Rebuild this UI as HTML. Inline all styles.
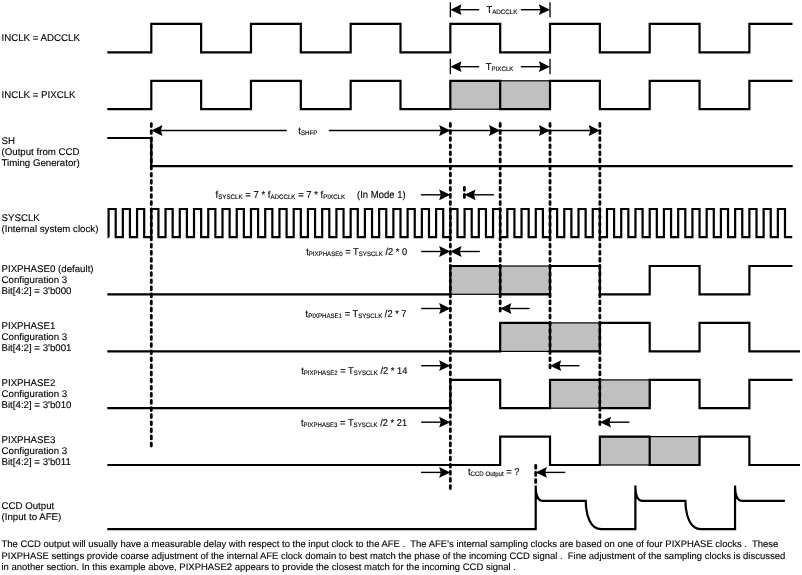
<!DOCTYPE html>
<html><head><meta charset="utf-8"><style>
html,body{margin:0;padding:0;background:#fff;overflow:hidden;width:802px;height:575px;}
svg{display:block;will-change:transform;}
text{font-family:"Liberation Sans", sans-serif;fill:#000;stroke:#000;stroke-width:0.12;white-space:pre;text-rendering:geometricPrecision;}
</style></head><body>
<svg width="802" height="575" viewBox="0 0 802 575">
<path d="M107.3 52.3 H151.3 V23.9 H201.14 V52.3 H250.98 V23.9 H300.82 V52.3 H350.66 V23.9 H400.5 V52.3 H450.34 V23.9 H500.18 V52.3 H550.02 V23.9 H599.86 V52.3 H649.7 V23.9 H699.54 V52.3 H749.38 V23.9 H792.5" fill="none" stroke="#000" stroke-width="2.2" stroke-linejoin="miter" stroke-linecap="butt" />
<rect x="450.34" y="80.8" width="99.68" height="28.4" fill="#c0c0c0" stroke="#000" stroke-width="1.2"/>
<path d="M107.3 109.2 H151.3 V80.8 H201.14 V109.2 H250.98 V80.8 H300.82 V109.2 H350.66 V80.8 H400.5 V109.2 H450.34 V80.8 H500.18 V109.2 H550.02 V80.8 H599.86 V109.2 H649.7 V80.8 H699.54 V109.2 H749.38 V80.8 H792.5" fill="none" stroke="#000" stroke-width="2.2" stroke-linejoin="miter" stroke-linecap="butt" />
<path d="M107.3 138 H151.3 V166.2 H792.7" fill="none" stroke="#000" stroke-width="2.2" stroke-linejoin="miter" stroke-linecap="butt" />
<path d="M108.6 237.2 H108.58 V209 H115.7 V237.2 H122.82 V209 H129.94 V237.2 H137.06 V209 H144.18 V237.2 H151.3 V209 H158.42 V237.2 H165.54 V209 H172.66 V237.2 H179.78 V209 H186.9 V237.2 H194.02 V209 H201.14 V237.2 H208.26 V209 H215.38 V237.2 H222.5 V209 H229.62 V237.2 H236.74 V209 H243.86 V237.2 H250.98 V209 H258.1 V237.2 H265.22 V209 H272.34 V237.2 H279.46 V209 H286.58 V237.2 H293.7 V209 H300.82 V237.2 H307.94 V209 H315.06 V237.2 H322.18 V209 H329.3 V237.2 H336.42 V209 H343.54 V237.2 H350.66 V209 H357.78 V237.2 H364.9 V209 H372.02 V237.2 H379.14 V209 H386.26 V237.2 H393.38 V209 H400.5 V237.2 H407.62 V209 H414.74 V237.2 H421.86 V209 H428.98 V237.2 H436.1 V209 H443.22 V237.2 H450.34 V209 H457.46 V237.2 H464.58 V209 H471.7 V237.2 H478.82 V209 H485.94 V237.2 H493.06 V209 H500.18 V237.2 H507.3 V209 H514.42 V237.2 H521.54 V209 H528.66 V237.2 H535.78 V209 H542.9 V237.2 H550.02 V209 H557.14 V237.2 H564.26 V209 H571.38 V237.2 H578.5 V209 H585.62 V237.2 H592.74 V209 H599.86 V237.2 H606.98 V209 H614.1 V237.2 H621.22 V209 H628.34 V237.2 H635.46 V209 H642.58 V237.2 H649.7 V209 H656.82 V237.2 H663.94 V209 H671.06 V237.2 H678.18 V209 H685.3 V237.2 H692.42 V209 H699.54 V237.2 H706.66 V209 H713.78 V237.2 H720.9 V209 H728.02 V237.2 H735.14 V209 H742.26 V237.2 H749.38 V209 H756.5 V237.2 H763.62 V209 H770.74 V237.2 H777.86 V209 H784.98 V237.2 H792.2" fill="none" stroke="#000" stroke-width="2.2" stroke-linejoin="miter" stroke-linecap="butt" />
<rect x="450.34" y="266" width="99.68" height="28.3" fill="#c0c0c0" stroke="#000" stroke-width="1.2"/>
<path d="M107.3 294.3 H450.34 V266 H500.18 V294.3 H550.02 V266 H599.86 V294.3 H649.7 V266 H699.54 V294.3 H749.38 V266 H792.5" fill="none" stroke="#000" stroke-width="2.2" stroke-linejoin="miter" stroke-linecap="butt" />
<rect x="500.18" y="322.9" width="99.68" height="28.5" fill="#c0c0c0" stroke="#000" stroke-width="1.2"/>
<path d="M107.3 351.4 H500.18 V322.9 H550.02 V351.4 H599.86 V322.9 H649.7 V351.4 H699.54 V322.9 H749.38 V351.4 H800" fill="none" stroke="#000" stroke-width="2.2" stroke-linejoin="miter" stroke-linecap="butt" />
<rect x="550.02" y="379.9" width="99.68" height="28.3" fill="#c0c0c0" stroke="#000" stroke-width="1.2"/>
<path d="M107.3 408.2 H450.34 V379.9 H500.18 V408.2 H550.02 V379.9 H599.86 V408.2 H649.7 V379.9 H699.54 V408.2 H749.38 V379.9 H792.5" fill="none" stroke="#000" stroke-width="2.2" stroke-linejoin="miter" stroke-linecap="butt" />
<rect x="599.86" y="436.6" width="99.68" height="28.4" fill="#c0c0c0" stroke="#000" stroke-width="1.2"/>
<path d="M107.3 465 H500.18 V436.6 H550.02 V465 H599.86 V436.6 H649.7 V465 H699.54 V436.6 H749.38 V465 H800" fill="none" stroke="#000" stroke-width="2.2" stroke-linejoin="miter" stroke-linecap="butt" />
<path d="M107.3 529.1 H535.7 V485.4 C535.7 496 538.3 500.8 542.9 500.8 H585.8 C585.8 516 590.7 529.1 601.2 529.1 H635.38 V485.4 C635.38 496 637.98 500.8 642.58 500.8 H685.48 C685.48 516 690.38 529.1 700.88 529.1 H735.06 V485.4 C735.06 496 737.66 500.8 742.26 500.8 H784.9" fill="none" stroke="#000" stroke-width="2.2" stroke-linejoin="miter" stroke-linecap="butt" />
<line x1="151.3" y1="122.2" x2="151.3" y2="447.3" stroke="#000" stroke-width="2.8" stroke-dasharray="2.9 4.2" stroke-dashoffset="5.7" stroke-linecap="round"/>
<line x1="450.34" y1="122.1" x2="450.34" y2="489" stroke="#000" stroke-width="2.8" stroke-dasharray="2.9 4.2" stroke-dashoffset="5.7" stroke-linecap="round"/>
<line x1="500.18" y1="122.1" x2="500.18" y2="312" stroke="#000" stroke-width="2.8" stroke-dasharray="2.9 4.2" stroke-dashoffset="5.7" stroke-linecap="round"/>
<line x1="550.02" y1="122.1" x2="550.02" y2="368.6" stroke="#000" stroke-width="2.8" stroke-dasharray="2.9 4.2" stroke-dashoffset="5.7" stroke-linecap="round"/>
<line x1="599.86" y1="122.1" x2="599.86" y2="425.2" stroke="#000" stroke-width="2.8" stroke-dasharray="2.9 4.2" stroke-dashoffset="5.7" stroke-linecap="round"/>
<line x1="464.4" y1="186" x2="464.4" y2="198.5" stroke="#000" stroke-width="2.8" stroke-dasharray="2.9 4.2" stroke-dashoffset="5.7" stroke-linecap="round"/>
<line x1="535.7" y1="464" x2="535.7" y2="486" stroke="#000" stroke-width="2.8" stroke-dasharray="2.9 4.2" stroke-dashoffset="5.7" stroke-linecap="round"/>
<line x1="450.34" y1="2.2" x2="450.34" y2="17.2" stroke="#000" stroke-width="1.3"/>
<line x1="550.02" y1="2.2" x2="550.02" y2="17.2" stroke="#000" stroke-width="1.3"/>
<line x1="455.34" y1="9.7" x2="479.2" y2="9.7" stroke="#000" stroke-width="1.4"/>
<line x1="520.8" y1="9.7" x2="545.02" y2="9.7" stroke="#000" stroke-width="1.4"/>
<path d="M450.34 9.7 L461.54 4.3 L459.84 9.7 L461.54 15.1 Z" fill="#000"/>
<path d="M550.02 9.7 L538.82 4.3 L540.52 9.7 L538.82 15.1 Z" fill="#000"/>
<text transform="translate(486.5 12.6) scale(1 1.06)" font-size="9.4">T<tspan font-size="6.2" dy="1">ADCCLK</tspan></text>
<line x1="450.34" y1="58.7" x2="450.34" y2="74.2" stroke="#000" stroke-width="1.3"/>
<line x1="550.02" y1="58.7" x2="550.02" y2="74.2" stroke="#000" stroke-width="1.3"/>
<line x1="455.34" y1="66.7" x2="479.2" y2="66.7" stroke="#000" stroke-width="1.4"/>
<line x1="520.8" y1="66.7" x2="545.02" y2="66.7" stroke="#000" stroke-width="1.4"/>
<path d="M450.34 66.7 L461.54 61.3 L459.84 66.7 L461.54 72.1 Z" fill="#000"/>
<path d="M550.02 66.7 L538.82 61.3 L540.52 66.7 L538.82 72.1 Z" fill="#000"/>
<text transform="translate(485.7 69.6) scale(1 1.06)" font-size="9.4">T<tspan font-size="6.2" dy="1">PIXCLK</tspan></text>
<line x1="156.3" y1="130.5" x2="286.7" y2="130.5" stroke="#000" stroke-width="1.4"/>
<line x1="328.8" y1="130.5" x2="594.86" y2="130.5" stroke="#000" stroke-width="1.4"/>
<path d="M151.3 130.5 L162.5 125.1 L160.8 130.5 L162.5 135.9 Z" fill="#000"/>
<path d="M450.34 130.5 L439.14 125.1 L440.84 130.5 L439.14 135.9 Z" fill="#000"/>
<path d="M500.18 130.5 L488.98 125.1 L490.68 130.5 L488.98 135.9 Z" fill="#000"/>
<path d="M550.02 130.5 L538.82 125.1 L540.52 130.5 L538.82 135.9 Z" fill="#000"/>
<path d="M599.86 130.5 L588.66 125.1 L590.36 130.5 L588.66 135.9 Z" fill="#000"/>
<text transform="translate(298.3 133.5) scale(1 1.06)" font-size="9.4">t<tspan font-size="6.2" dy="1">SHFP</tspan></text>
<line x1="420.9" y1="194.8" x2="445.34" y2="194.8" stroke="#000" stroke-width="1.4"/>
<path d="M450.34 194.8 L439.14 189.4 L440.84 194.8 L439.14 200.2 Z" fill="#000"/>
<line x1="469.4" y1="194.8" x2="493.9" y2="194.8" stroke="#000" stroke-width="1.4"/>
<path d="M464.4 194.8 L475.6 189.4 L473.9 194.8 L475.6 200.2 Z" fill="#000"/>
<text transform="translate(215.6 197.5) scale(1 1.06)" font-size="9.5">f<tspan font-size="6.2" dy="1">SYSCLK</tspan><tspan dy="-1"> = 7 * f</tspan><tspan font-size="6.2" dy="1">ADCCLK</tspan><tspan dy="-1"> = 7 * f</tspan><tspan font-size="6.2" dy="1">PIXCLK</tspan></text>
<text transform="translate(357 197.7) scale(1 1.06)" font-size="9.5">(In Mode 1)</text>
<line x1="421.2" y1="251.5" x2="445.34" y2="251.5" stroke="#000" stroke-width="1.4"/>
<path d="M450.34 251.5 L439.14 246.1 L440.84 251.5 L439.14 256.9 Z" fill="#000"/>
<line x1="455.34" y1="251.5" x2="479.84" y2="251.5" stroke="#000" stroke-width="1.4"/>
<path d="M450.34 251.5 L461.54 246.1 L459.84 251.5 L461.54 256.9 Z" fill="#000"/>
<text transform="translate(306.2 255.1) scale(1 1.06)" font-size="9.3">t<tspan font-size="6.1" dy="1">PIXPHASE0</tspan><tspan dy="-1"> = T</tspan><tspan font-size="6.1" dy="1">SYSCLK</tspan><tspan dy="-1"> /2 * 0</tspan></text>
<line x1="421.2" y1="308.5" x2="445.34" y2="308.5" stroke="#000" stroke-width="1.4"/>
<path d="M450.34 308.5 L439.14 303.1 L440.84 308.5 L439.14 313.9 Z" fill="#000"/>
<line x1="505.18" y1="308.5" x2="529.68" y2="308.5" stroke="#000" stroke-width="1.4"/>
<path d="M500.18 308.5 L511.38 303.1 L509.68 308.5 L511.38 313.9 Z" fill="#000"/>
<text transform="translate(305.6 316.7) scale(1 1.06)" font-size="9.3">t<tspan font-size="6.1" dy="1">PIXPHASE1</tspan><tspan dy="-1"> = T</tspan><tspan font-size="6.1" dy="1">SYSCLK</tspan><tspan dy="-1"> /2 * 7</tspan></text>
<line x1="421.2" y1="365.7" x2="445.34" y2="365.7" stroke="#000" stroke-width="1.4"/>
<path d="M450.34 365.7 L439.14 360.3 L440.84 365.7 L439.14 371.1 Z" fill="#000"/>
<line x1="555.02" y1="365.7" x2="579.52" y2="365.7" stroke="#000" stroke-width="1.4"/>
<path d="M550.02 365.7 L561.22 360.3 L559.52 365.7 L561.22 371.1 Z" fill="#000"/>
<text transform="translate(301.2 373.9) scale(1 1.06)" font-size="9.3">t<tspan font-size="6.1" dy="1">PIXPHASE2</tspan><tspan dy="-1"> = T</tspan><tspan font-size="6.1" dy="1">SYSCLK</tspan><tspan dy="-1"> /2 * 14</tspan></text>
<line x1="421.2" y1="422.2" x2="445.34" y2="422.2" stroke="#000" stroke-width="1.4"/>
<path d="M450.34 422.2 L439.14 416.8 L440.84 422.2 L439.14 427.6 Z" fill="#000"/>
<line x1="604.86" y1="422.2" x2="629.36" y2="422.2" stroke="#000" stroke-width="1.4"/>
<path d="M599.86 422.2 L611.06 416.8 L609.36 422.2 L611.06 427.6 Z" fill="#000"/>
<text transform="translate(301 425.8) scale(1 1.06)" font-size="9.3">t<tspan font-size="6.1" dy="1">PIXPHASE3</tspan><tspan dy="-1"> = T</tspan><tspan font-size="6.1" dy="1">SYSCLK</tspan><tspan dy="-1"> /2 * 21</tspan></text>
<line x1="421" y1="472.4" x2="445.34" y2="472.4" stroke="#000" stroke-width="1.4"/>
<path d="M450.34 472.4 L439.14 467 L440.84 472.4 L439.14 477.8 Z" fill="#000"/>
<line x1="540.7" y1="472.4" x2="565.3" y2="472.4" stroke="#000" stroke-width="1.4"/>
<path d="M535.7 472.4 L546.9 467 L545.2 472.4 L546.9 477.8 Z" fill="#000"/>
<text transform="translate(467.9 474.7) scale(1 1.06)" font-size="9.3">t<tspan font-size="6.1" dy="1">CCD Output</tspan><tspan dy="-1"> = ?</tspan></text>
<text transform="translate(1.5 41) scale(1 1.0)" font-size="9.7" >INCLK = ADCCLK</text>
<text transform="translate(1.5 98.1) scale(1 1.0)" font-size="9.7" >INCLK = PIXCLK</text>
<text transform="translate(1.5 143.5) scale(1 1.0)" font-size="9.7" >SH</text>
<text transform="translate(1.5 154.5) scale(1 1.0)" font-size="9.7" >(Output from CCD</text>
<text transform="translate(1.5 165.5) scale(1 1.0)" font-size="9.7" >Timing Generator)</text>
<text transform="translate(1.5 220.6) scale(1 1.0)" font-size="9.7" >SYSCLK</text>
<text transform="translate(1.5 231.6) scale(1 1.0)" font-size="9.7" >(Internal system clock)</text>
<text transform="translate(1.5 272) scale(1 1.0)" font-size="9.7" >PIXPHASE0 (default)</text>
<text transform="translate(1.5 283) scale(1 1.0)" font-size="9.7" >Configuration 3</text>
<text transform="translate(1.5 294) scale(1 1.0)" font-size="9.7" >Bit[4:2] = 3'b000</text>
<text transform="translate(1.5 328.9) scale(1 1.0)" font-size="9.7" >PIXPHASE1</text>
<text transform="translate(1.5 339.9) scale(1 1.0)" font-size="9.7" >Configuration 3</text>
<text transform="translate(1.5 350.9) scale(1 1.0)" font-size="9.7" >Bit[4:2] = 3'b001</text>
<text transform="translate(1.5 385.8) scale(1 1.0)" font-size="9.7" >PIXPHASE2</text>
<text transform="translate(1.5 396.8) scale(1 1.0)" font-size="9.7" >Configuration 3</text>
<text transform="translate(1.5 407.8) scale(1 1.0)" font-size="9.7" >Bit[4:2] = 3'b010</text>
<text transform="translate(1.5 442.7) scale(1 1.0)" font-size="9.7" >PIXPHASE3</text>
<text transform="translate(1.5 453.7) scale(1 1.0)" font-size="9.7" >Configuration 3</text>
<text transform="translate(1.5 464.7) scale(1 1.0)" font-size="9.7" >Bit[4:2] = 3'b011</text>
<text transform="translate(1.5 508.7) scale(1 1.0)" font-size="9.7" >CCD Output</text>
<text transform="translate(1.5 519.7) scale(1 1.0)" font-size="9.7" >(Input to AFE)</text>
<text transform="translate(1.5 547.4) scale(1 1.0)" font-size="9.47" xml:space="preserve" word-spacing="0">The CCD output will usually have a measurable delay with respect to the input clock to the AFE .  The AFE’s internal sampling clocks are based on one of four PIXPHASE clocks .  These</text>
<text transform="translate(1.5 558.6) scale(1 1.0)" font-size="9.47" xml:space="preserve" word-spacing="0">PIXPHASE settings provide coarse adjustment of the internal AFE clock domain to best match the phase of the incoming CCD signal .  Fine adjustment of the sampling clocks is discussed</text>
<text transform="translate(1.5 569.8) scale(1 1.0)" font-size="9.47" xml:space="preserve" word-spacing="0.07">in another section. In this example above, PIXPHASE2 appears to provide the closest match for the incoming CCD signal .</text>
</svg>
</body></html>
